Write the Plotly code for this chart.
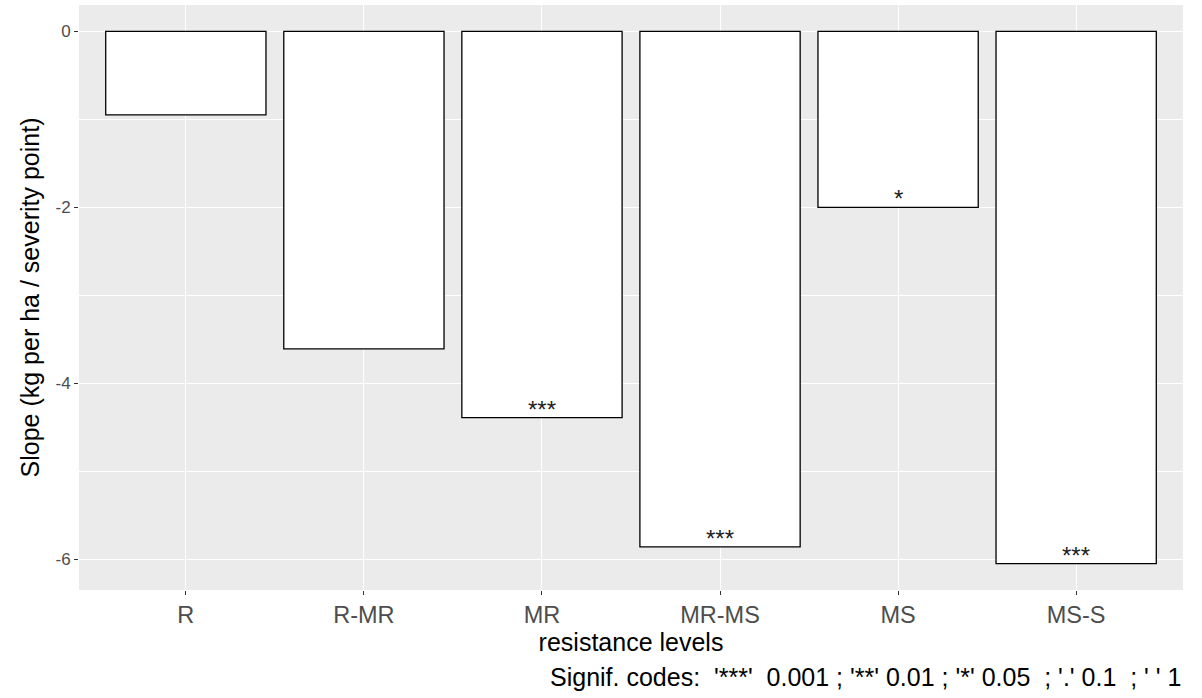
import plotly.graph_objects as go

categories = ["R", "R-MR", "MR", "MR-MS", "MS", "MS-S"]
slopes = [-0.95, -3.61, -4.39, -5.86, -2.0, -6.05]
signif = ["", "", "***", "***", "*", "***"]
y_ticks = [0, -2, -4, -6]

FONT = "Liberation Sans, Arial, sans-serif"

fig = go.Figure()
fig.add_trace(go.Bar(
    x=categories, y=slopes, width=0.9,
    marker=dict(color="white", line=dict(color="black", width=1.3)),
    showlegend=False, hoverinfo="skip",
))

for cat, val, lab in zip(categories, slopes, signif):
    if lab:
        fig.add_annotation(
            x=cat, y=val, text=lab, showarrow=False,
            xanchor="center", yanchor="bottom", yshift=-7,
            font=dict(family=FONT, size=24, color="#222222"),
        )

fig.update_layout(
    width=1202, height=698,
    margin=dict(l=79, r=19, t=5, b=108),
    paper_bgcolor="white", plot_bgcolor="#EBEBEB",
    font=dict(family=FONT, color="black"),
    bargap=0.1,
)
fig.update_xaxes(
    type="category", range=[-0.6, 5.6],
    showgrid=True, gridcolor="white", gridwidth=1.3,
    ticks="outside", ticklen=4, tickcolor="#333333", tickwidth=1,
    tickfont=dict(family=FONT, size=23.5, color="#4D4D4D"),
    title=dict(text="resistance levels", font=dict(family=FONT, size=25, color="black"), standoff=2),
    zeroline=False, showline=False,
)
fig.update_yaxes(
    range=[-6.35, 0.30],
    tickvals=y_ticks, ticktext=[str(v) for v in y_ticks],
    showgrid=True, gridcolor="white", gridwidth=1.3,
    minor=dict(tickvals=[-1, -3, -5], showgrid=True, gridcolor="white", gridwidth=0.6, ticks=""),
    ticks="outside", ticklen=4, tickcolor="#333333", tickwidth=1,
    tickfont=dict(family=FONT, size=17, color="#4D4D4D"),
    title=dict(text="Slope (kg per ha / severity point)", font=dict(family=FONT, size=25, color="black"), standoff=8),
    zeroline=False, showline=False,
)
fig.add_annotation(
    text="Signif. codes:  '***'  0.001 ; '**' 0.01 ; '*' 0.05  ; '.' 0.1  ; ' ' 1",
    xref="paper", yref="paper", x=1, y=-0.1487,
    xanchor="right", yanchor="middle", showarrow=False,
    font=dict(family=FONT, size=25, color="black"),
)

fig.write_html("out.html")
